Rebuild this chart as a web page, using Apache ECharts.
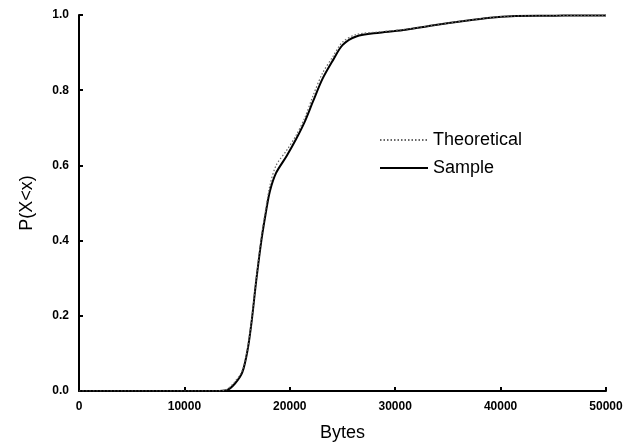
<!DOCTYPE html>
<html>
<head>
<meta charset="utf-8">
<script src="https://cdn.jsdelivr.net/npm/echarts@6/dist/echarts.min.js"></script>
<style>
  html, body { margin: 0; padding: 0; background: #fff; }
  #chart { width: 633px; height: 447px; }
</style>
</head>
<body>
<div id="chart"></div>
<script>
// Empirical CDF of packet sizes versus the fitted distribution
const sampleBytes = [0, 13000, 14000, 14800, 15500, 16000, 16400, 16800, 17300, 17700, 18100, 18700, 19700, 20600, 21400, 22200, 23100, 24100, 25000, 26300, 28500, 31000, 33500, 36700, 39000, 41000, 45000, 47500, 50000];
const sampleP     = [0, 0, 0.002, 0.02, 0.05, 0.11, 0.19, 0.29, 0.40, 0.47, 0.53, 0.58, 0.625, 0.67, 0.715, 0.77, 0.83, 0.88, 0.92, 0.943, 0.953, 0.961, 0.972, 0.985, 0.993, 0.997, 0.998, 0.999, 0.999];

const theoBytes = [0, 13000, 14000, 14800, 15500, 16000, 16400, 16800, 17300, 17700, 18100, 18700, 19700, 20600, 21400, 22200, 23100, 24100, 25000, 26300, 28500, 31000, 33500, 36700, 39000, 41000, 45000, 47500, 50000];
const theoP     = [0, 0, 0.004, 0.025, 0.055, 0.115, 0.195, 0.295, 0.41, 0.48, 0.545, 0.60, 0.64, 0.68, 0.725, 0.785, 0.845, 0.89, 0.928, 0.948, 0.955, 0.962, 0.972, 0.985, 0.993, 0.997, 0.998, 0.999, 0.999];

const xTicks = [0, 10000, 20000, 30000, 40000, 50000];
const yTicks = [0.0, 0.2, 0.4, 0.6, 0.8, 1.0];

const pairs = (xs, ys) => xs.map((x, i) => [x, ys[i]]);

const chart = echarts.init(document.getElementById('chart'));
const FONT = 'Liberation Sans, Arial, sans-serif';
const labelFont = { color: '#000', fontFamily: FONT, fontWeight: 'bold', fontSize: 12 };
const axisLineStyle = { color: '#000', width: 2 };

chart.setOption({
  animation: false,
  backgroundColor: '#fff',
  grid: { left: 79, right: 27, top: 15, bottom: 54.5, containLabel: false },
  legend: {
    left: 374, top: 126, orient: 'vertical',
    itemWidth: 48, itemHeight: 18, itemGap: 10,
    itemStyle: { opacity: 0 },
    textStyle: { color: '#000', fontFamily: FONT, fontSize: 18, padding: [0, 0, 0, 0] },
    data: ['Theoretical', 'Sample']
  },
  xAxis: {
    type: 'value', min: 0, max: 50000, interval: 10000,
    name: 'Bytes', nameLocation: 'middle', nameGap: 33,
    nameTextStyle: { color: '#000', fontFamily: FONT, fontSize: 18 },
    axisLine: { show: true, lineStyle: axisLineStyle },
    axisTick: { show: true, inside: true, length: 4, lineStyle: { color: '#000', width: 2 } },
    axisLabel: Object.assign({ margin: 10, formatter: v => xTicks.includes(v) ? String(v) : '' }, labelFont),
    splitLine: { show: false }
  },
  yAxis: {
    type: 'value', min: 0, max: 1, interval: 0.2,
    name: 'P(X<x)', nameLocation: 'middle', nameGap: 43,
    nameTextStyle: { color: '#000', fontFamily: FONT, fontSize: 18 },
    axisLine: { show: true, lineStyle: axisLineStyle },
    axisTick: { show: true, inside: true, length: 4, lineStyle: { color: '#000', width: 2 } },
    axisLabel: Object.assign({ margin: 10, formatter: v => yTicks.some(t => Math.abs(t - v) < 1e-9) ? v.toFixed(1) : '' }, labelFont),
    splitLine: { show: false }
  },
  series: [
    {
      name: 'Theoretical', type: 'line', smooth: 0.3, symbol: 'none',
      data: pairs(theoBytes, theoP),
      lineStyle: { color: '#666', width: 1.2, type: [1.5, 2] },
      itemStyle: { color: '#666' },
      z: 3
    },
    {
      name: 'Sample', type: 'line', smooth: 0.3, symbol: 'none',
      data: pairs(sampleBytes, sampleP),
      lineStyle: { color: '#000', width: 2 },
      itemStyle: { color: '#000' },
      z: 2
    }
  ]
});
</script>
</body>
</html>
